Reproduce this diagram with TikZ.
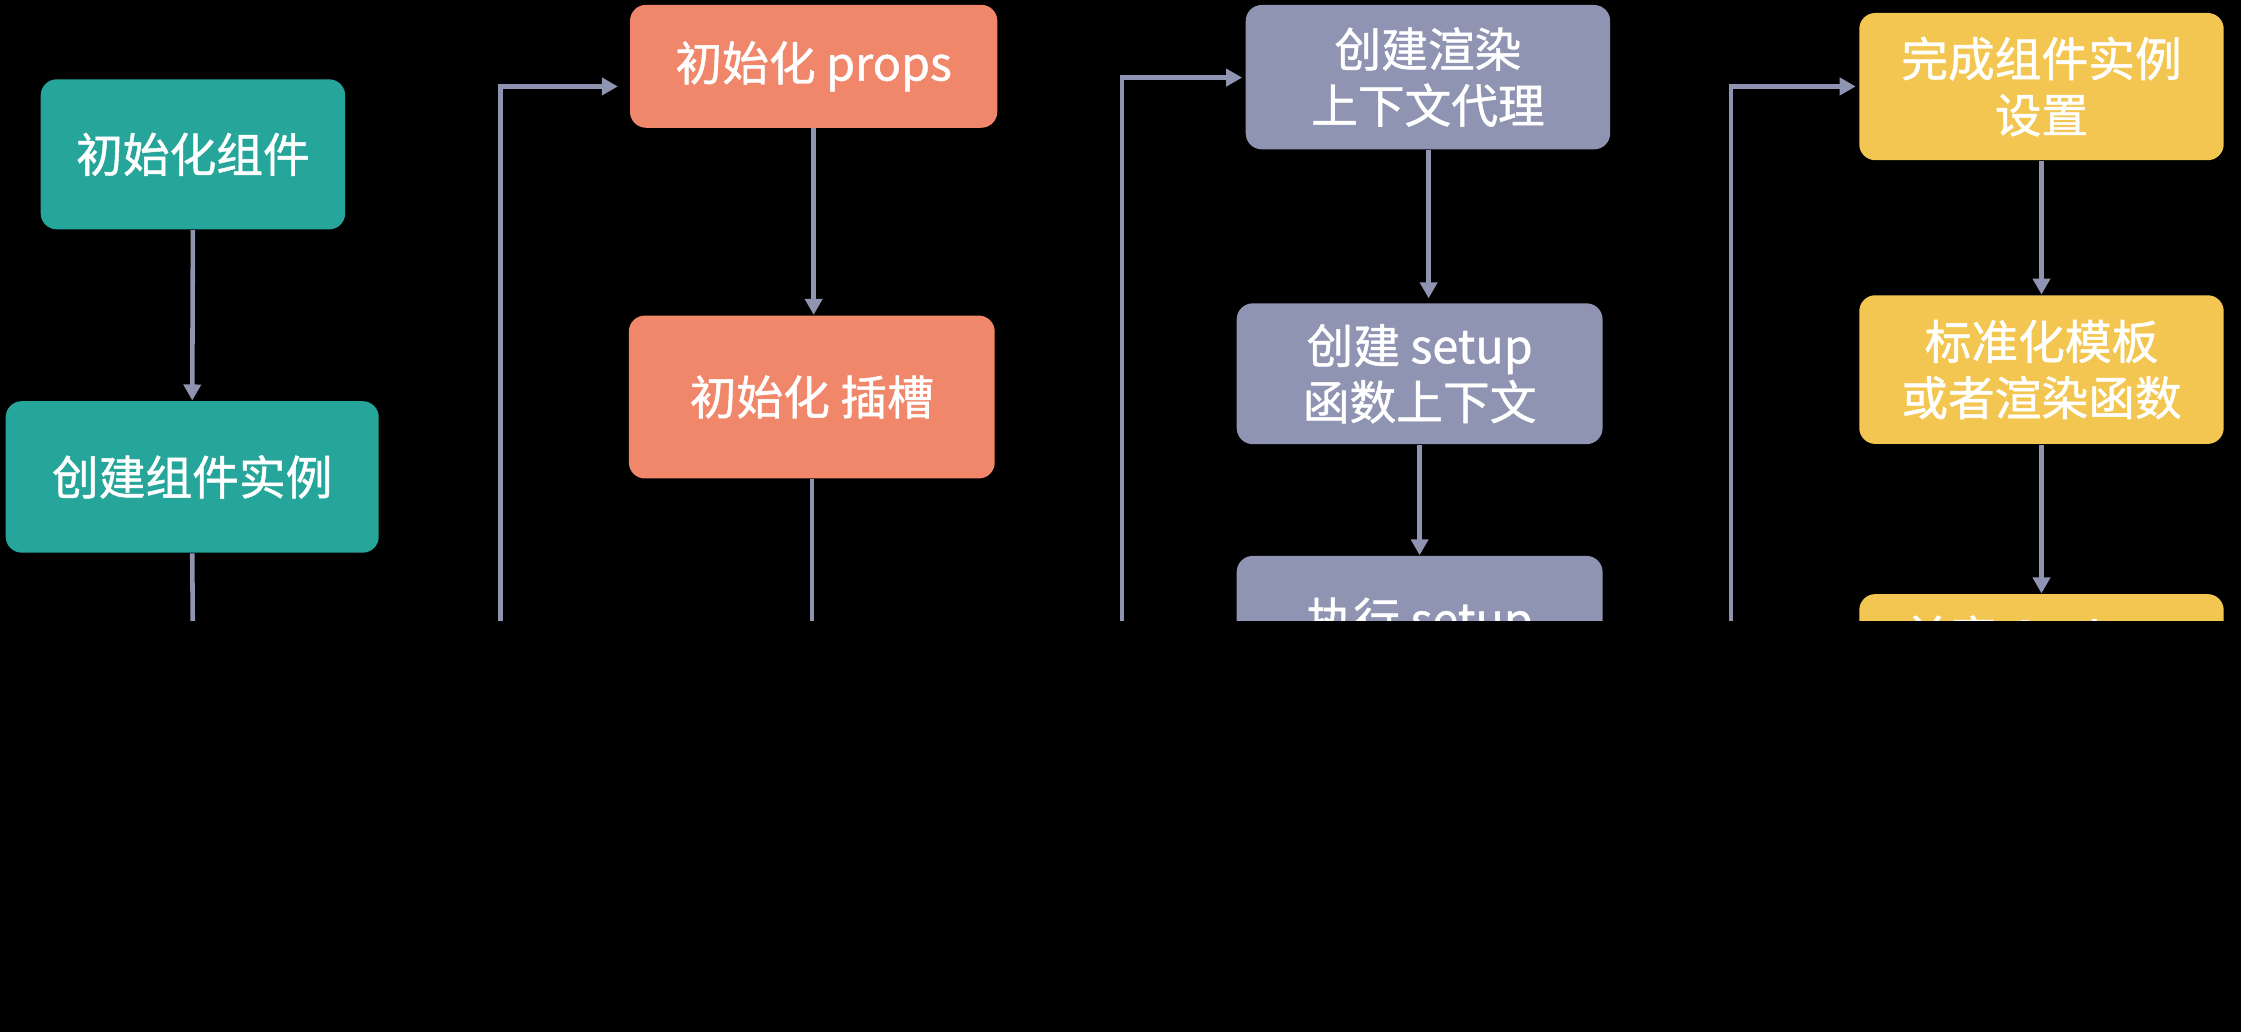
\documentclass[tikz,border=0pt]{standalone}
\usepackage{fontspec}
\setmainfont[FakeBold=1]{Noto Sans CJK SC}
\usetikzlibrary{arrows.meta}
\definecolor{cteal}{HTML}{26A69A}
\definecolor{corange}{HTML}{F0876A}
\definecolor{cgray}{HTML}{8F94B2}
\definecolor{cyellow}{HTML}{F2C650}
\definecolor{cline}{HTML}{8F94B2}
\newlength\pxu
\setlength\pxu{0.014292cm}
\tikzset{
  box/.style={rounded corners=0.16cm, inner sep=0pt, align=center, text=white,
    font=\fontsize{13.3}{16}\selectfont},
  conn/.style={draw=cline, line width=1.3pt},
  arr/.style={conn, -{Triangle[length=0.16cm,width=0.17cm]}},
}
\begin{document}
\begin{tikzpicture}[x=0.014292cm, y=-0.014292cm]
\fill[black] (0,0) rectangle (1568,722);
\useasboundingbox (0,0) rectangle (1568,722);
\begin{scope}
\clip (0,0) rectangle (1568,434.5);
% column 1
\node[box, fill=cteal, minimum width=213\pxu, minimum height=105\pxu] (A) at (135,108) {初始化组件};
\node[box, fill=cteal, minimum width=261\pxu, minimum height=106\pxu] (B) at (134.5,333.7) {创建组件实例};
% column 2
\node[box, fill=corange, minimum width=257\pxu, minimum height=86\pxu] (C) at (569.3,46.4) {初始化 props};
\node[box, fill=corange, minimum width=256\pxu, minimum height=114\pxu] (D) at (568,277.8) {初始化 插槽};
% column 3
\node[box, fill=cgray, minimum width=255\pxu, minimum height=101\pxu] (E) at (999.1,54) {创建渲染\\上下文代理};
\node[box, fill=cgray, minimum width=256\pxu, minimum height=98.5\pxu] (F) at (993.3,261.5) {创建 setup\\函数上下文};
\node[box, fill=cgray, minimum width=256\pxu, minimum height=128\pxu] (G) at (993.3,453) {执行 setup\\函数};
% column 4
\node[box, fill=cyellow, minimum width=255\pxu, minimum height=103\pxu] (H) at (1428.4,60.6) {完成组件实例\\设置};
\node[box, fill=cyellow, minimum width=255\pxu, minimum height=104\pxu] (I) at (1428.4,258.6) {标准化模板\\或者渲染函数};
\node[box, fill=cyellow, minimum width=255\pxu, minimum height=97\pxu] (J) at (1428.4,464.2) {兼容 Options\\API};
% free ends below the cut
\coordinate (b1) at (135,450);
\coordinate (b2) at (350,450);
\coordinate (t2) at (350,60.5);
\coordinate (b3) at (569,450);
\coordinate (b4) at (785,450);
\coordinate (t4) at (785,54.3);
\coordinate (b5) at (1211,450);
\coordinate (t5) at (1211,60.5);
% connectors
\draw[arr] (A.south) -- (B.north);
\draw[conn] (B.south) -- (b1);
\draw[arr, shorten >=8\pxu] (b2) -- (t2) -- (C.west |- t2);
\draw[arr] (C.south) -- (C.south |- D.north);
\draw[conn] (D.south) -- (D.south |- b3);
\draw[arr, shorten >=2\pxu] (b4) -- (t4) -- (E.west |- t4);
\draw[arr, shorten >=3\pxu] ([xshift=0.5\pxu]E.south) -- ([xshift=0.5\pxu]E.south |- F.north);
\draw[arr] (F.south) -- (F.south |- G.north);
\draw[arr, shorten >=2\pxu] (b5) -- (t5) -- (H.west |- t5);
\draw[arr] (H.south) -- (I.north);
\draw[arr] (I.south) -- (J.north);
\end{scope}
\end{tikzpicture}
\end{document}
